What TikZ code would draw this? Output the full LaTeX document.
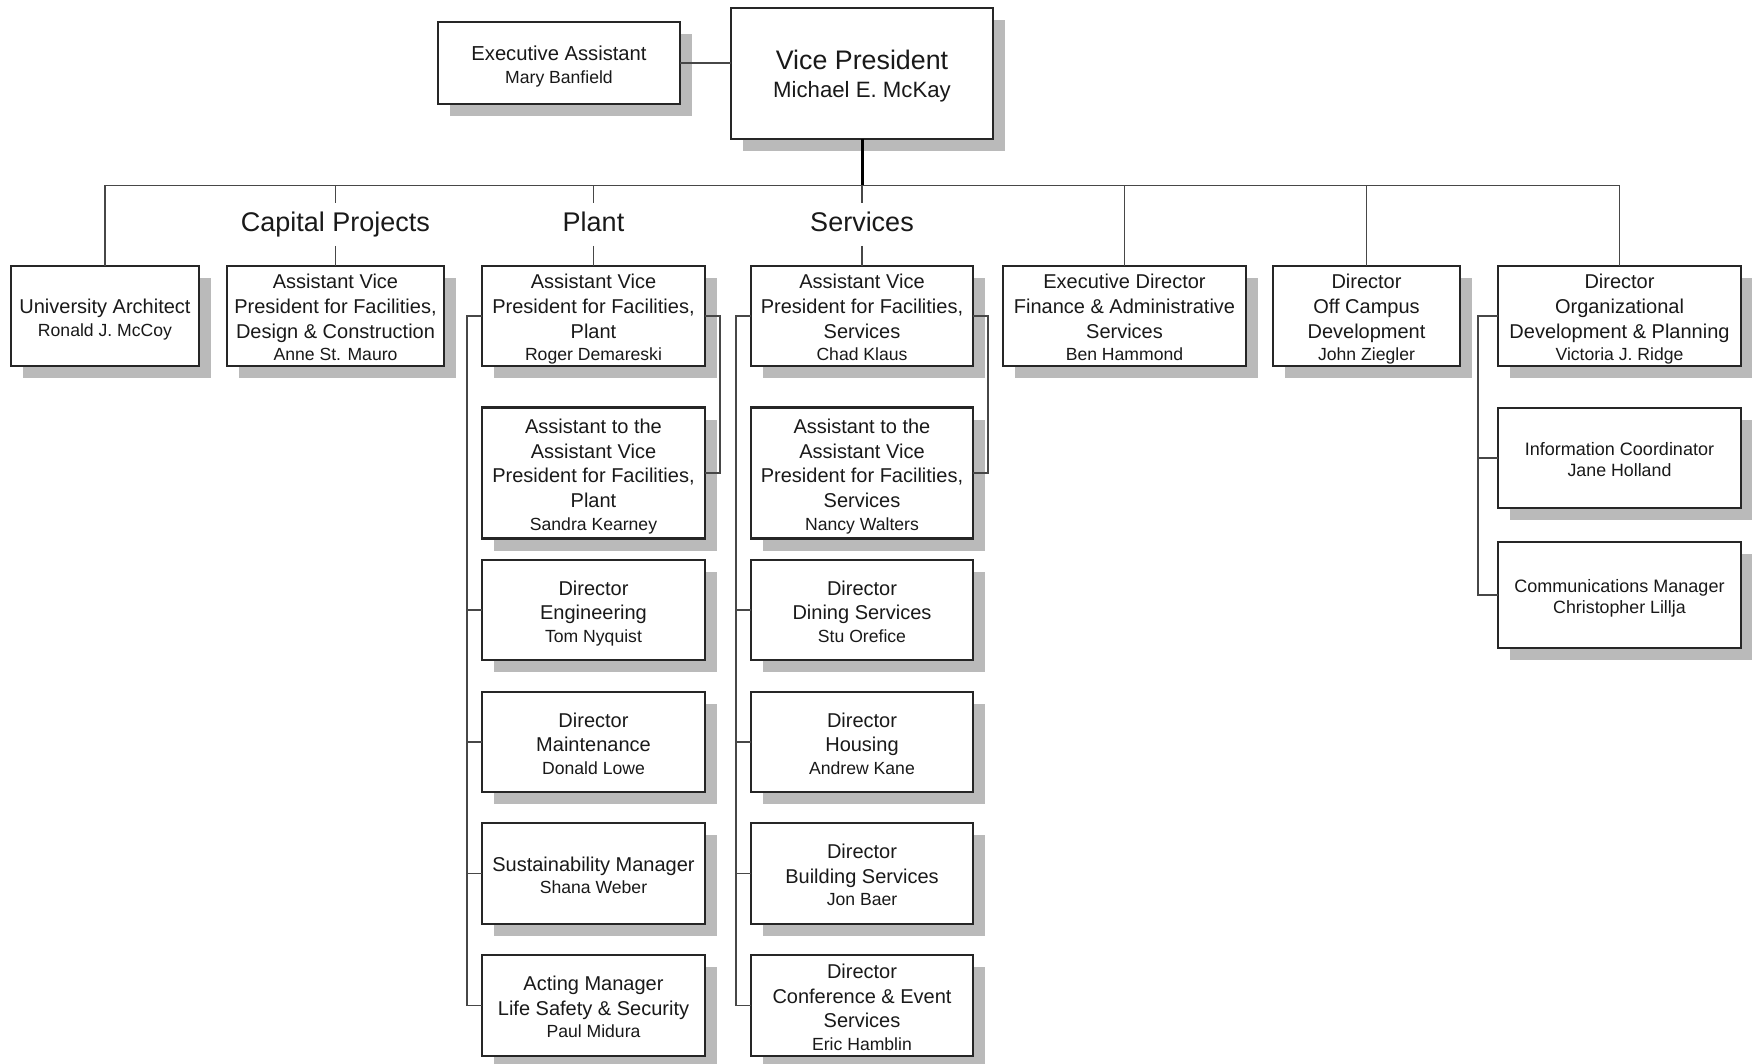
\documentclass[tikz,border=0pt]{standalone}
\usepackage{fontspec}
\setmainfont{Liberation Sans}
\usetikzlibrary{shadows}
\newcommand\pname{\fontsize{8.8}{10.5}\selectfont\rule[-2.15pt]{0pt}{7pt}}
\newcommand\topstrut{\rule{0pt}{\dimexpr0.7\baselineskip+2.4pt\relax}}
\tikzset{
  obox/.style={draw=black!85, line width=1.2pt, fill=white, inner sep=0pt, outer sep=0pt,
    align=center, text=black!90, font=\fontsize{10}{12.3}\selectfont,
    drop shadow={shadow xshift=6pt, shadow yshift=-6pt, fill=black!27, opacity=1}},
  hdr/.style={inner sep=0pt, outer sep=0pt, minimum height=21.5pt, text=black!90,
    text height=10pt, text depth=3pt, font=\fontsize{13.5}{16}\selectfont},
  conn/.style={draw=black!72, line width=0.7pt},
  trunk/.style={draw=black, line width=1.5pt},
}
\newcommand\obx[6][]{\node[obox,minimum width=#4*0.5pt,minimum height=#5*0.5pt,#1] (#2) at (#3) {\topstrut#6};}
\begin{document}
\begin{tikzpicture}[x=0.5pt,y=-0.5pt]
\useasboundingbox (0,0) rectangle (1752,1064);
\coordinate (bus) at (0,185.5);
% top
\obx[font=\fontsize{10.1}{12}\selectfont]{ea}{559,63}{242}{82}{Executive Assistant\\[-0.6pt]{\pname Mary Banfield}}
\obx[font=\fontsize{13.4}{15}\selectfont]{vp}{862,73.5}{262}{131}{Vice President\\[-0.6pt]{\fontsize{11.1}{13}\selectfont\rule[-2.9pt]{0pt}{8pt}Michael E. McKay}}
% row 1
\obx{ua}{105,316}{188}{100.5}{University Architect\\[-1pt]{\pname Ronald J. McCoy}}
\obx{cp}{335.5,316}{217}{100.5}{Assistant Vice\\President for Facilities,\\Design \& Construction\\[-1pt]{\pname Anne St. Mauro}}
\obx{pavp}{593.5,316}{223}{100.5}{Assistant Vice\\President for Facilities,\\Plant\\[-1pt]{\pname Roger Demareski}}
\obx{savp}{862,316}{222}{100.5}{Assistant Vice\\President for Facilities,\\Services\\[-1pt]{\pname Chad Klaus}}
\obx{ed}{1124.5,316}{243}{100.5}{Executive Director\\Finance \& Administrative\\Services\\[-1pt]{\pname Ben Hammond}}
\obx{oc}{1366.5,316}{187}{100.5}{Director\\Off Campus\\Development\\[-1pt]{\pname John Ziegler}}
\obx{od}{1619.5,316}{243}{100.5}{Director\\Organizational\\Development \& Planning\\[-1pt]{\pname Victoria J. Ridge}}
% plant column
\obx{passt}{593.5,473}{223}{131}{Assistant to the\\Assistant Vice\\President for Facilities,\\Plant\\[-1pt]{\pname Sandra Kearney}}
\obx{peng}{593.5,610}{223}{100.5}{Director\\Engineering\\[-1pt]{\pname Tom Nyquist}}
\obx{pmaint}{593.5,742}{223}{100.5}{Director\\Maintenance\\[-1pt]{\pname Donald Lowe}}
\obx{psust}{593.5,873.5}{223}{100.5}{Sustainability Manager\\[-1pt]{\pname Shana Weber}}
\obx{pact}{593.5,1005.5}{223}{100.5}{Acting Manager\\Life Safety \& Security\\[-1pt]{\pname Paul Midura}}
% services column
\obx{sasst}{862,473}{222}{131}{Assistant to the\\Assistant Vice\\President for Facilities,\\Services\\[-1pt]{\pname Nancy Walters}}
\obx{sdin}{862,610}{222}{100.5}{Director\\Dining Services\\[-1pt]{\pname Stu Orefice}}
\obx{shous}{862,742}{222}{100.5}{Director\\Housing\\[-1pt]{\pname Andrew Kane}}
\obx{sbuild}{862,873.5}{222}{100.5}{Director\\Building Services\\[-1pt]{\pname Jon Baer}}
\obx{sconf}{862,1005.5}{222}{100.5}{Director\\Conference \& Event\\Services\\[-1pt]{\pname Eric Hamblin}}
% org dev subordinates
\obx[font=\fontsize{9}{11.2}\selectfont]{info}{1619.5,458}{243}{100.5}{Information Coordinator\\[-0.4pt]{\fontsize{8.9}{11}\selectfont\rule[-2.3pt]{0pt}{7pt}Jane Holland}}
\obx[font=\fontsize{9}{11.2}\selectfont]{comm}{1619.5,595}{243}{106}{Communications Manager\\[-0.4pt]{\fontsize{8.9}{11}\selectfont\rule[-2.3pt]{0pt}{7pt}Christopher Lillja}}
% headers
\node[hdr] (lcp) at (335.5,224.5) {Capital Projects};
\node[hdr] (lplant) at (593.5,224.5) {Plant};
\node[hdr] (lserv) at (862,224.5) {Services};
% connectors
\draw[conn] (ea.east) -- (vp.west |- ea.east);
\draw[trunk] (vp.south) -- (vp.south |- bus);
\draw[conn] (ua.north) -- (ua.north |- bus) -- (od.north |- bus) -- (od.north);
\draw[conn] (ed.north) -- (ed.north |- bus);
\draw[conn] (oc.north) -- (oc.north |- bus);
\draw[conn] (lcp.north) -- (lcp.north |- bus);
\draw[conn] (lcp.south) -- (cp.north);
\draw[conn] (lplant.north) -- (lplant.north |- bus);
\draw[conn] (lplant.south) -- (pavp.north);
\draw[conn] (lserv.north) -- (lserv.north |- bus);
\draw[conn] (lserv.south) -- (savp.north);
% plant
\draw[conn] (pavp.west) -- ++(-15,0) |- (pact.west);
\draw[conn] (peng.west) -- ++(-15,0);
\draw[conn] (pmaint.west) -- ++(-15,0);
\draw[conn] (psust.west) -- ++(-15,0);
\draw[conn] (pavp.east) -- ++(15,0) |- (passt.east);
% services
\draw[conn] (savp.west) -- ++(-15,0) |- (sconf.west);
\draw[conn] (sdin.west) -- ++(-15,0);
\draw[conn] (shous.west) -- ++(-15,0);
\draw[conn] (sbuild.west) -- ++(-15,0);
\draw[conn] (savp.east) -- ++(15,0) |- (sasst.east);
% org dev
\draw[conn] (od.west) -- ++(-20,0) |- (comm.west);
\draw[conn] (info.west) -- ++(-20,0);
\end{tikzpicture}
\end{document}
